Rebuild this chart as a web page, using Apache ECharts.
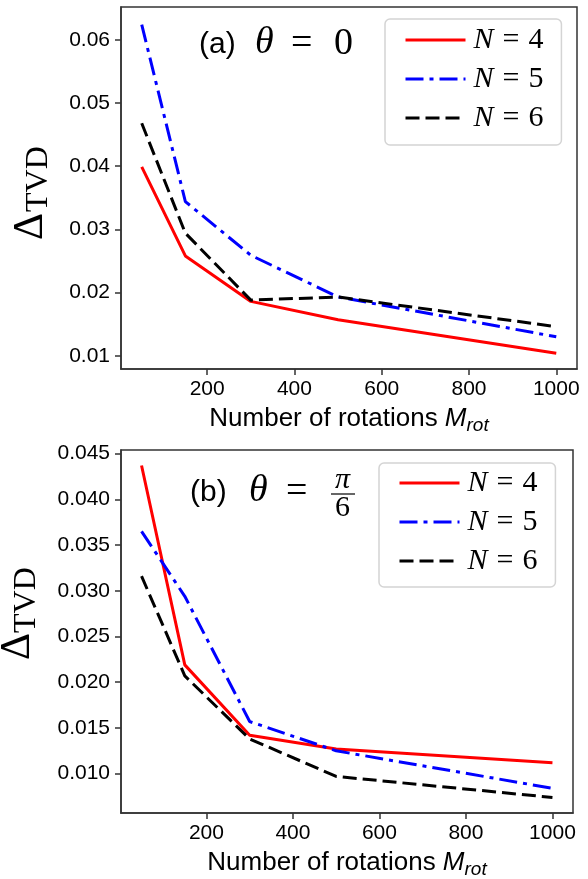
<!DOCTYPE html>
<html>
<head>
<meta charset="utf-8">
<script src="https://cdn.jsdelivr.net/npm/echarts@6/dist/echarts.min.js"></script>
<style>
  html, body { margin: 0; padding: 0; background: #fff; }
  #main { width: 588px; height: 879px; }
</style>
</head>
<body>
<div id="main"></div>
<script>
// number of rotations M_rot
var rotations = [50, 150, 300, 500, 1000]
var xTicks = [200, 400, 600, 800, 1000]

// (a) theta = 0
var tvdA4 = [0.0399, 0.0258, 0.0186, 0.0157, 0.0104]
var tvdA5 = [0.0624, 0.0344, 0.0259, 0.0193, 0.0130]
var tvdA6 = [0.0468, 0.0294, 0.0188, 0.0193, 0.0146]
var yTicksA = [0.01, 0.02, 0.03, 0.04, 0.05, 0.06]

// (b) theta = pi/6
var tvdB4 = [0.0437, 0.0219, 0.0142, 0.0127, 0.0112]
var tvdB5 = [0.0365, 0.0294, 0.0157, 0.0125, 0.0084]
var tvdB6 = [0.0316, 0.0207, 0.0138, 0.0097, 0.0074]
var yTicksB = [0.010, 0.015, 0.020, 0.025, 0.030, 0.035, 0.040, 0.045]

var names = ['N = 4', 'N = 5', 'N = 6']

var serif = 'Liberation Serif'
var sans = 'Liberation Sans'
var frame = '#333'
var colors = ['#ff0000', '#0000ff', '#000000']
var dashes = ['solid', [18, 6, 4, 6], [14, 6]]

function pairs(ys) {
  return rotations.map(function (x, i) {
    return [x, ys[i]]
  })
}

function makeSeries(grid, lists) {
  return lists.map(function (ys, k) {
    return {
      name: names[k],
      type: 'line',
      xAxisIndex: grid,
      yAxisIndex: grid,
      symbol: 'none',
      animation: false,
      color: colors[k],
      lineStyle: { color: colors[k], width: 3, type: dashes[k] },
      data: pairs(ys)
    }
  })
}

function xAxisOpt(grid) {
  return {
    type: 'value',
    gridIndex: grid,
    min: 2.5,
    max: 1047.5,
    name: '{a|Number of rotations }{m|M}{s|rot}',
    nameLocation: 'middle',
    nameGap: 34,
    nameTextStyle: {
      color: '#000',
      rich: {
        a: { fontFamily: sans, fontSize: 26, lineHeight: 32, color: '#000' },
        m: { fontFamily: sans, fontStyle: 'italic', fontSize: 26, lineHeight: 32, color: '#000' },
        s: { fontFamily: sans, fontStyle: 'italic', fontSize: 19, lineHeight: 18, verticalAlign: 'bottom', color: '#000' }
      }
    },
    axisLine: { show: true, onZero: false, lineStyle: { color: frame, width: 1.5 } },
    axisTick: { show: true, customValues: xTicks, length: 6, lineStyle: { color: frame, width: 1.5 } },
    axisLabel: {
      customValues: xTicks,
      margin: 10,
      color: '#000',
      fontSize: 21,
      fontFamily: sans,
      formatter: function (v) { return String(v) }
    },
    splitLine: { show: false }
  }
}

function yAxisOpt(grid, min, max, ticks, digits) {
  return {
    type: 'value',
    gridIndex: grid,
    min: min,
    max: max,
    axisLine: { show: true, onZero: false, lineStyle: { color: frame, width: 1.5 } },
    axisTick: { show: true, customValues: ticks, length: 6, lineStyle: { color: frame, width: 1.5 } },
    axisLabel: {
      customValues: ticks,
      margin: 11,
      color: '#000',
      fontSize: 21,
      fontFamily: sans,
      formatter: function (v) { return v.toFixed(digits) }
    },
    splitLine: { show: false }
  }
}

function legendOpt(left, top, pad) {
  return {
    orient: 'vertical',
    left: left,
    top: top,
    data: names,
    itemWidth: 60,
    itemHeight: 14,
    itemGap: 9,
    padding: pad,
    borderColor: '#d4d4d4',
    borderWidth: 1.5,
    borderRadius: 5,
    backgroundColor: 'rgba(255,255,255,0.8)',
    selectedMode: false,
    itemStyle: { opacity: 0 },
    lineStyle: { width: 3 },
    formatter: function (name) {
      var v = name.split('=')[1].trim()
      return '{i|N}{e|=}{v|' + v + '}'
    },
    textStyle: {
      color: '#000',
      fontFamily: serif,
      fontSize: 30,
      rich: {
        i: { fontFamily: serif, fontStyle: 'italic', fontSize: 30, color: '#000', padding: [0, 0, 0, 3] },
        e: { fontFamily: serif, fontSize: 30, color: '#000', padding: [0, 9, 0, 9] },
        v: { fontFamily: serif, fontSize: 30, color: '#000' }
      }
    }
  }
}

function txt(x, y, s, font, extra) {
  var el = {
    type: 'text',
    x: x,
    y: y,
    silent: true,
    style: { text: s, font: font, fill: '#000', align: 'left', verticalAlign: 'middle' }
  }
  if (extra) {
    for (var k in extra) el[k] = extra[k]
  }
  return el
}

var rot = { rotation: Math.PI / 2 }

var chart = echarts.init(document.getElementById('main'))

var option = {
  backgroundColor: '#fff',
  animation: false,
  textStyle: { fontFamily: sans },
  grid: [
    { left: 121, top: 7, width: 456, height: 362, show: true, borderColor: frame, borderWidth: 1.5, containLabel: false, outerBoundsMode: 'none' },
    { left: 121, top: 450, width: 452, height: 363, show: true, borderColor: frame, borderWidth: 1.5, containLabel: false, outerBoundsMode: 'none' }
  ],
  xAxis: [xAxisOpt(0), xAxisOpt(1)],
  yAxis: [
    yAxisOpt(0, 0.0079, 0.0652, yTicksA, 2),
    yAxisOpt(1, 0.0057, 0.0454, yTicksB, 3)
  ],
  legend: [
    legendOpt(385, 19, [6, 18, 12, 19]),
    legendOpt(379, 463, [5, 18, 11, 19])
  ],
  graphic: [
    // panel (a) title
    txt(199, 45, '(a)', '30px "Liberation Sans"'),
    txt(255, 43, 'θ', 'italic 38px "Liberation Serif"'),
    txt(291, 44, '=', '38px "Liberation Serif"'),
    txt(334, 44, '0', '38px "Liberation Serif"'),
    // panel (b) title
    txt(190, 493, '(b)', '30px "Liberation Sans"'),
    txt(249, 491, 'θ', 'italic 38px "Liberation Serif"'),
    txt(286, 492, '=', '38px "Liberation Serif"'),
    txt(335, 480, 'π', 'italic 30px "Liberation Serif"'),
    { type: 'line', silent: true, shape: { x1: 331, y1: 494, x2: 355, y2: 494 }, style: { stroke: '#000', lineWidth: 1.2 } },
    txt(335, 508, '6', '30px "Liberation Serif"'),
    // y axis labels
    txt(31, 240, 'Δ', '42px "Liberation Serif"', rot),
    txt(39, 212, 'TVD', '32px "Liberation Serif"', rot),
    txt(18, 660, 'Δ', '42px "Liberation Serif"', rot),
    txt(27, 633, 'TVD', '32px "Liberation Serif"', rot)
  ],
  series: makeSeries(0, [tvdA4, tvdA5, tvdA6]).concat(makeSeries(1, [tvdB4, tvdB5, tvdB6]))
}

chart.setOption(option)
</script>
</body>
</html>
